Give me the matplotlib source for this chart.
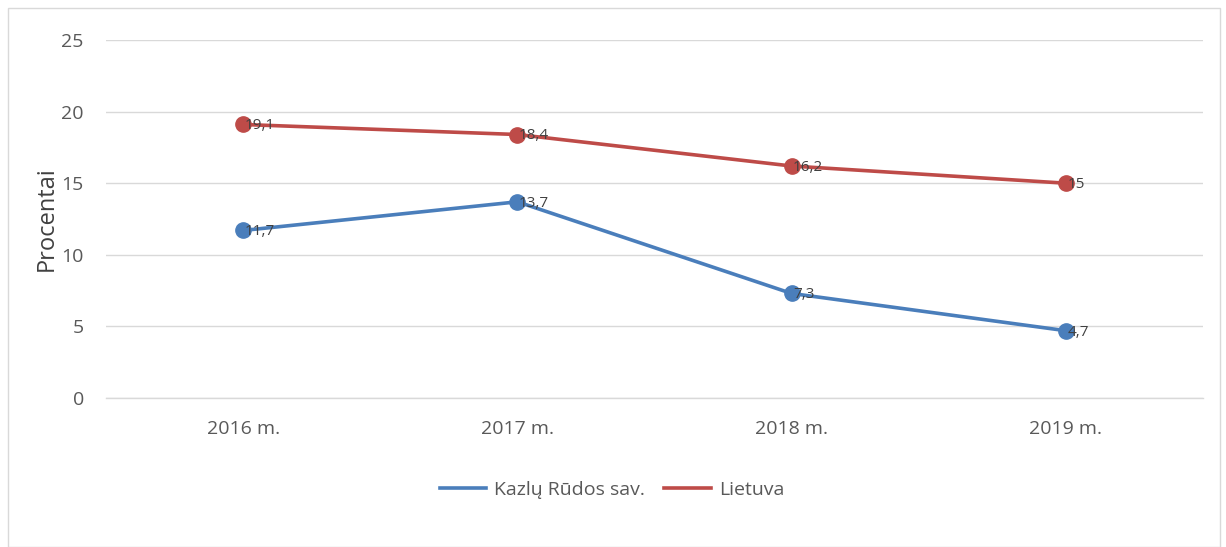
import matplotlib
matplotlib.use("Agg")
import matplotlib.pyplot as plt
from matplotlib.patches import Rectangle

categories = ["2016 m.", "2017 m.", "2018 m.", "2019 m."]
kazlu = [11.7, 13.7, 7.3, 4.7]
lietuva = [19.1, 18.4, 16.2, 15.0]
kazlu_labels = ["11,7", "13,7", "7,3", "4,7"]
lietuva_labels = ["19,1", "18,4", "16,2", "15"]
yticks = [0, 5, 10, 15, 20, 25]

plt.rcParams['font.family'] = ['Open Sans', 'DejaVu Sans']

fig = plt.figure(figsize=(12.26, 5.47), dpi=100)
fig.patches.append(Rectangle((8/1226, 0), 1 - 14/1226, 1 - 8/547, transform=fig.transFigure,
                             fill=False, edgecolor='#d9d9d9', linewidth=1.0))
ax = fig.add_axes([106/1226, 149/547, (1203-106)/1226, (398-40)/547])

x = list(range(len(categories)))
blue = '#4A7EBB'
red = '#BE4B48'
ax.plot(x, kazlu, color=blue, linewidth=2.6, marker='o', markersize=11, label='Kazlų Rūdos sav.', zorder=3)
ax.plot(x, lietuva, color=red, linewidth=2.6, marker='o', markersize=11, label='Lietuva', zorder=3)

for xi, v, t in zip(x, kazlu, kazlu_labels):
    ax.annotate(t, (xi, v), xytext=(1, -1), textcoords='offset points', ha='left', va='center',
                fontsize=11, color='#404040', zorder=4)
for xi, v, t in zip(x, lietuva, lietuva_labels):
    ax.annotate(t, (xi, v), xytext=(1, -1), textcoords='offset points', ha='left', va='center',
                fontsize=11, color='#404040', zorder=4)

ax.set_xlim(-0.5, 3.5)
ax.set_ylim(0, 25)
ax.set_yticks(yticks)
ax.set_xticks(x)
ax.set_xticklabels(categories)
ax.grid(axis='y', color='#d9d9d9', linewidth=1.0)
ax.axhline(0, color='#d9d9d9', linewidth=1.0, clip_on=False, zorder=1)
ax.set_axisbelow(True)
for s in ax.spines.values():
    s.set_visible(False)
ax.tick_params(axis='both', length=0, labelsize=14, colors='#595959')
ax.tick_params(axis='x', pad=16)
ax.tick_params(axis='y', pad=16)
ax.set_ylabel('Procentai', fontsize=17, color='#404040', labelpad=2)

leg = fig.legend(loc='center', bbox_to_anchor=(612/1226, 1 - 490/547), ncol=2, frameon=False,
                 fontsize=14, handlelength=2.4, columnspacing=1.0, handletextpad=0.4)
for t in leg.get_texts():
    t.set_color('#595959')
for h in leg.get_lines():
    h.set_marker('')
    h.set_linewidth(2.6)

fig.savefig('out.png', dpi=100)
